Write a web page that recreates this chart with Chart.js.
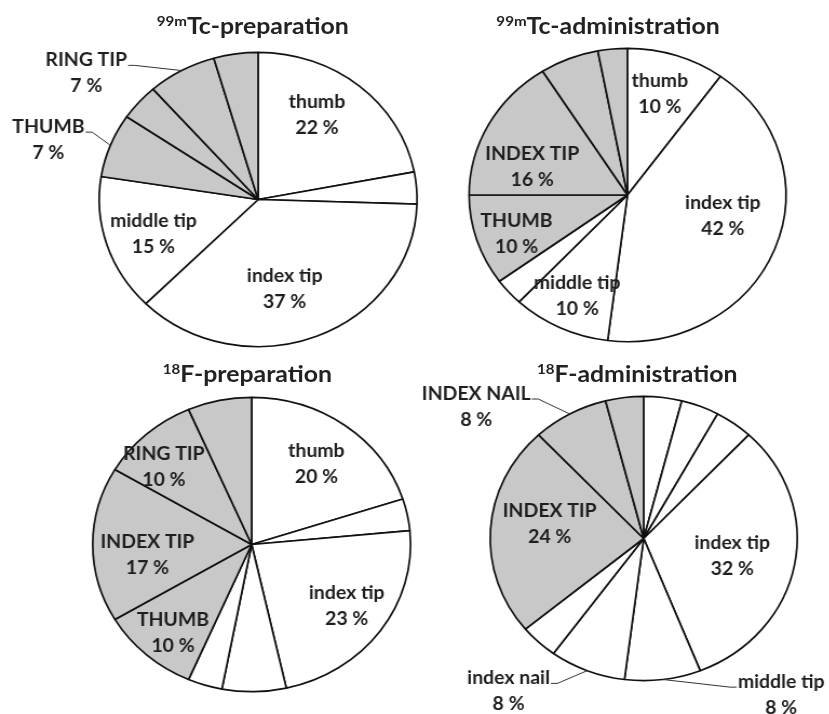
<!DOCTYPE html>
<html>
<head>
<meta charset="utf-8">
<script src="https://cdn.jsdelivr.net/npm/chart.js@4"></script>
<style>
  body { margin: 0; background: #fff; }
  #wrap { position: absolute; left: 0; top: 0; width: 768px; height: 714px; transform: scale(1.08, 1); transform-origin: 0 0; }
  #wrap canvas { position: absolute; left: 0; top: 0; }
  .title { position: absolute; font-family: Lato, sans-serif; font-weight: bold; font-size: 23px; color: #222; white-space: nowrap; transform: translate(-50%, -50%); }
  .title sup { font-size: 14px; vertical-align: 8px; line-height: 0; }
</style>
</head>
<body>
<div id="wrap">
  <div class="title" style="left:234px; top:25px;"><sup>99m</sup>Tc-preparation</div>
  <div class="title" style="left:563px; top:25px;"><sup>99m</sup>Tc-administration</div>
  <div class="title" style="left:229px; top:373px;"><sup>18</sup>F-preparation</div>
  <div class="title" style="left:590px; top:373px;"><sup>18</sup>F-administration</div>
  <canvas id="c1" width="768" height="714"></canvas>
  <canvas id="c2" width="768" height="714"></canvas>
  <canvas id="c3" width="768" height="714"></canvas>
  <canvas id="c4" width="768" height="714"></canvas>
</div>
<script>
// slices go clockwise from 12 o'clock; lowercase = white hand, UPPERCASE = grey hand
// '' = slice without a label
const tcPrepSites = ['thumb', '', 'index tip', 'middle tip', 'THUMB', '', 'RING TIP', ''];
const tcPrepValues = [22, 3.5, 37, 15, 7, 4, 7, 4.5];
const tcPrepHand = ['w', 'w', 'w', 'w', 'g', 'g', 'g', 'g'];

const tcAdmSites = ['thumb', 'index tip', 'middle tip', '', 'THUMB', 'INDEX TIP', '', ''];
const tcAdmValues = [10, 42, 10, 3, 10, 16, 6, 3];
const tcAdmHand = ['w', 'w', 'w', 'w', 'g', 'g', 'g', 'g'];

const fPrepSites = ['thumb', '', 'index tip', '', '', 'THUMB', 'INDEX TIP', 'RING TIP', ''];
const fPrepValues = [20, 3.5, 23, 6.5, 3.5, 10, 17, 10, 6.5];
const fPrepHand = ['w', 'w', 'w', 'w', 'w', 'g', 'g', 'g', 'g'];

const fAdmSites = ['', '', '', 'index tip', 'middle tip', 'index nail', '', 'INDEX TIP', 'INDEX NAIL', ''];
const fAdmValues = [4, 4, 4, 32, 8, 8, 4, 24, 8, 4];
const fAdmHand = ['w', 'w', 'w', 'w', 'w', 'w', 'w', 'g', 'g', 'g'];

// label placement: [fraction of radius, angle shift in degrees, callout line]
const tcPrepPlace = [[0.68, -6.6], null, [0.63, 6.2], [0.70, -1.8], [1.38, -4.6, 1], null, [1.38, -22.8, 1], null];
const tcAdmPlace = [[0.72, -1.5], [0.62, -7.9], [0.76, -0.5], null, [0.75, -2.9], [0.63, -11.5], null, null];
const fPrepPlace = [[0.68, 0.8], null, [0.73, -1], null, null, [0.78, -2], [0.66, -6.5], [0.76, -5.2], null];
const fAdmPlace = [null, null, null, [0.59, 1.5], [1.42, -31.9, 1], [1.39, 17.7, 1], null, [0.62, 5.5], [1.43, -20.9, 1], null];

const W = 768, H = 714;
const handColor = { w: '#ffffff', g: '#c8c8c8' };
const labelFont = 'bold 18px Lato, sans-serif';

const sliceLabels = {
  id: 'sliceLabels',
  afterDatasetsDraw(chart, args, opts) {
    const ctx = chart.ctx;
    const meta = chart.getDatasetMeta(0);
    const values = chart.data.datasets[0].data;
    ctx.save();
    ctx.font = labelFont;
    ctx.fillStyle = '#1e1e1e';
    ctx.strokeStyle = '#333';
    ctx.lineWidth = 1;
    ctx.textAlign = 'center';
    ctx.textBaseline = 'middle';
    meta.data.forEach((arc, i) => {
      const name = chart.data.labels[i];
      const p = opts.place[i];
      if (!name || !p) return;
      const mid = (arc.startAngle + arc.endAngle) / 2;
      const a = mid + p[1] * Math.PI / 180;
      const tx = arc.x + Math.cos(a) * arc.outerRadius * p[0];
      const ty = arc.y + Math.sin(a) * arc.outerRadius * p[0];
      ctx.fillText(name, tx, ty - 13);
      ctx.fillText(Math.round(values[i]) + ' %', tx, ty + 13);
      if (p[2]) {
        const w = ctx.measureText(name).width;
        const ex = arc.x + Math.cos(mid) * arc.outerRadius;
        const ey = arc.y + Math.sin(mid) * arc.outerRadius;
        const left = tx < arc.x;
        const sx = left ? tx + w / 2 + 1 : tx - w / 2 - 1;
        const sy = ty - 8;
        ctx.beginPath();
        ctx.moveTo(sx, sy);
        ctx.lineTo(sx + (left ? 6 : -6), sy);
        ctx.lineTo(ex, ey);
        ctx.stroke();
      }
    });
    ctx.restore();
  }
};

function makePie(id, sites, values, hand, place, cx, cy, r) {
  new Chart(document.getElementById(id), {
    type: 'pie',
    data: {
      labels: sites,
      datasets: [{
        data: values,
        backgroundColor: hand.map(h => handColor[h]),
        borderColor: '#111',
        borderWidth: 1.7
      }]
    },
    options: {
      responsive: false,
      animation: false,
      layout: { padding: { left: cx - r, right: W - cx - r, top: cy - r, bottom: H - cy - r } },
      plugins: {
        legend: { display: false },
        tooltip: { enabled: false },
        sliceLabels: { place: place }
      }
    },
    plugins: [sliceLabels]
  });
}

makePie('c1', tcPrepSites, tcPrepValues, tcPrepHand, tcPrepPlace, 239, 199.5, 148);
makePie('c2', tcAdmSites, tcAdmValues, tcAdmHand, tcAdmPlace, 581, 195, 147.5);
makePie('c3', fPrepSites, fPrepValues, fPrepHand, fPrepPlace, 233, 544.5, 148);
makePie('c4', fAdmSites, fAdmValues, fAdmHand, fAdmPlace, 596, 538.5, 143);
</script>
</body>
</html>
